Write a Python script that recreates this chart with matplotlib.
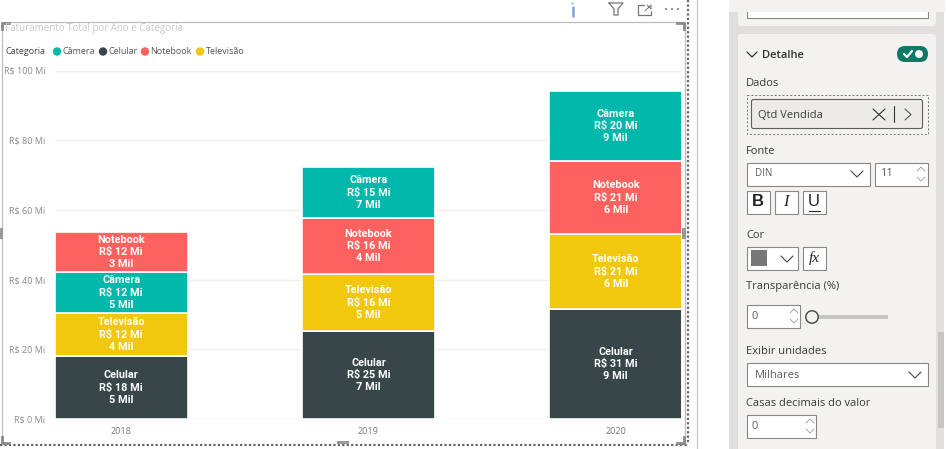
import matplotlib
matplotlib.use("Agg")
import matplotlib.pyplot as plt
from matplotlib.patches import Rectangle, FancyBboxPatch, Circle

years = ["2018", "2019", "2020"]
stack_order = [
    ["Celular", "Televisão", "Câmera", "Notebook"],
    ["Celular", "Televisão", "Notebook", "Câmera"],
    ["Celular", "Televisão", "Notebook", "Câmera"],
]
revenue = {
    "Câmera": [11.8, 14.6, 20.2],
    "Celular": [18.1, 25.3, 31.5],
    "Notebook": [11.5, 16.1, 21.0],
    "Televisão": [12.3, 16.3, 21.5],
}
revenue_labels = {
    "Câmera": ["R$ 12 Mi", "R$ 15 Mi", "R$ 20 Mi"],
    "Celular": ["R$ 18 Mi", "R$ 25 Mi", "R$ 31 Mi"],
    "Notebook": ["R$ 12 Mi", "R$ 16 Mi", "R$ 21 Mi"],
    "Televisão": ["R$ 12 Mi", "R$ 16 Mi", "R$ 21 Mi"],
}
quantity_labels = {
    "Câmera": ["5 Mil", "7 Mil", "9 Mil"],
    "Celular": ["5 Mil", "7 Mil", "9 Mil"],
    "Notebook": ["3 Mil", "4 Mil", "6 Mil"],
    "Televisão": ["4 Mil", "5 Mil", "6 Mil"],
}
colors = {"Câmera": "#01B8AA", "Celular": "#374649", "Notebook": "#FD625E", "Televisão": "#F2C80F"}
yticks = [0, 20, 40, 60, 80, 100]
title = "Faturamento Total por Ano e Categoria"

W, H = 947, 449
fig = plt.figure(figsize=(W / 100, H / 100), dpi=100, facecolor="white")
plt.rcParams["font.family"] = ["Open Sans", "DejaVu Sans"]

# Overlay in pixel coordinates for the surrounding interface
ui = fig.add_axes([0, 0, 1, 1], zorder=0)
ui.set_xlim(0, W)
ui.set_ylim(H, 0)
ui.axis("off")

def rect(x0, y0, x1, y1, fc="white", ec="none", lw=0.8, z=1, **kw):
    ui.add_patch(Rectangle((x0, y0), x1 - x0, y1 - y0, fc=fc, ec=ec, lw=lw, zorder=z, **kw))

def poly(xs, ys, c="#444444", lw=0.8, z=5, **kw):
    ui.plot(xs, ys, color=c, lw=lw, zorder=z, solid_capstyle="round", **kw)

def label(x, y, s, size=8, c="#3b3a39", ha="left", weight="normal", **kw):
    ui.text(x, y, s, fontsize=size, color=c, ha=ha, va="center", fontweight=weight, zorder=6, **kw)

# Visual frame
ui.plot([1.5, 1.5, 685, 685], [443, 22, 22, 443], color="#BDBDBD", lw=0.9, zorder=1)
ui.plot([0, 687.5], [444.5, 444.5], color="#666666", lw=1.6, ls=(0, (1, 1)), zorder=2)
ui.plot([687.5, 687.5], [0, 444], color="#666666", lw=1.6, ls=(0, (1, 1)), zorder=2)
ui.plot([696.5, 696.5], [0, 449], color="#C4C4C4", lw=0.9, zorder=1)
for xs, ys in [([2, 2, 9], [29, 22.5, 22.5]), ([677, 684, 684], [22.5, 22.5, 29]),
               ([2, 2, 9], [437, 443, 443]), ([677, 684, 684], [443, 443, 437])]:
    ui.plot(xs, ys, color="#8A8A8A", lw=2, zorder=3)
rect(337, 441, 349, 444, fc="#9A9A9A", z=3)
rect(0, 228, 3, 239, fc="#9A9A9A", z=3)
rect(682, 228, 686, 239, fc="#9A9A9A", z=3)

# Header icons
poly([572.5, 572.5], [7, 16], c="#7FA3D6", lw=1.8)
ui.add_patch(Circle((572.5, 3.5), 0.9, fc="#7FA3D6", ec="none", zorder=5))
poly([609, 623, 618, 618, 614, 614, 609], [3, 3, 9, 15, 15, 9, 3], c="#777777", lw=0.9)
poly([644, 638, 638, 651, 651], [5, 5, 15, 15, 11], c="#777777", lw=0.9)
poly([645, 651, 651, 647], [11, 5, 9, 5], c="#777777", lw=0.7)
for x in [666, 672, 678]:
    ui.add_patch(Circle((x, 9), 1, fc="#777777", ec="none", zorder=5))

# Title and legend
label(5, 29, title, size=7, c="#C8C8C8")
label(5, 52, "Categoria", size=6.5, c="#444444")
for cx, tx, name in [(57, 62.5, "Câmera"), (103, 108.5, "Celular"), (145, 150.5, "Notebook"), (200, 206, "Televisão")]:
    ui.add_patch(Circle((cx, 51.5), 4.2, fc=colors[name], ec="none", zorder=5))
    label(tx, 52, name, size=6.5, c="#555555")

# Chart
L, R, T, B = 55, 681, 70.5, 419
ax = fig.add_axes([L / W, 1 - B / H, (R - L) / W, (B - T) / H], zorder=2)
ax.patch.set_alpha(0)
ax.set_xlim(-0.268, 2.264)
ax.set_ylim(0, 100)
for s in ax.spines.values():
    s.set_visible(False)
ax.set_yticks(yticks)
ax.set_yticklabels([f"R$ {v} Mi" for v in yticks], fontsize=6.5, color="#8a8a8a")
ax.set_xticks(range(3))
ax.set_xticklabels(years, fontsize=6.5, color="#777777")
ax.tick_params(length=0, pad=7, axis="y")
ax.tick_params(length=0, pad=6, axis="x")
ax.grid(axis="y", color="#EFEFEF", lw=1)
ax.set_axisbelow(True)

for i, order in enumerate(stack_order):
    bottom = 0
    for name in order:
        v = revenue[name][i]
        ax.bar(i, v, 0.536, bottom=bottom, color=colors[name], edgecolor="white", linewidth=1.2, zorder=3)
        ax.text(i, bottom + v / 2, f"{name}\n{revenue_labels[name][i]}\n{quantity_labels[name][i]}",
                ha="center", va="center", color="white", fontsize=7.8, fontweight="bold",
                family="Roboto", linespacing=1.28, zorder=4)
        bottom += v

# Format pane
rect(729, 0, 944, 449, fc="#E1DFDD", z=1)
for y0, y1 in [(-10, 26), (34, 470)]:
    ui.add_patch(FancyBboxPatch((738, y0), 198, y1 - y0, boxstyle="round,pad=0,rounding_size=3",
                                fc="#F3F2F1", ec="none", zorder=1.5))
rect(746.5, 0, 927.5, 17.5, fc="white", ec="#8A8886", z=2)
rect(729, 0, 945, 12, fc="#F3F2F1", z=2.5)
rect(938, 332, 944, 428, fc="#C8C6C4", z=3)

poly([747, 752, 757], [52, 57, 52], c="#333333", lw=0.9)
label(762, 55, "Detalhe", size=8, c="#323130", weight="semibold")
ui.add_patch(FancyBboxPatch((897, 46), 31, 16, boxstyle="round,pad=0,rounding_size=8", fc="#117865", ec="none", zorder=3))
poly([904, 907, 912], [54, 57, 51], c="white", lw=1.6)
ui.add_patch(Circle((919, 54), 4, fc="white", ec="none", zorder=5))

label(746, 83, "Dados", size=8)
rect(746.5, 94.5, 927.5, 133.5, fc="none", ec="#777777", lw=0.7, z=3, ls=(0, (2, 2)))
ui.add_patch(FancyBboxPatch((751.5, 99.5), 171, 29, boxstyle="round,pad=0,rounding_size=2", fc="#EDEBE9", ec="#605E5C", lw=0.8, zorder=3))
label(758, 115, "Qtd Vendida", size=8)
poly([873, 885], [109, 120], c="#333333")
poly([873, 885], [120, 109], c="#333333")
poly([893.5, 893.5], [106, 122], c="#333333")
poly([905, 911, 905], [109, 114.5, 120], c="#555555")

label(746, 151, "Fonte", size=8)
rect(746.5, 162.5, 869.5, 185.5, ec="#8A8886", z=3)
label(755, 174, "DIN", size=7, c="#605E5C")
poly([851, 857, 863], [171, 177, 171], c="#444444")
rect(874.5, 162.5, 927.5, 185.5, ec="#8A8886", z=3)
label(880, 174, "11", size=8, c="#605E5C")
poly([917, 921, 925], [171, 167, 171], c="#999999", lw=0.6)
poly([917, 921, 925], [177, 181, 177], c="#999999", lw=0.6)
for x0, s, st, w in [(746.5, "B", "normal", "bold"), (774.5, "I", "italic", "normal"), (802.5, "U", "normal", "normal")]:
    rect(x0, 190.5, x0 + 23, 213.5, ec="#8A8886", z=3)
    ui.text(x0 + 11.5, 201.5, s, fontsize=12, color="#252423", ha="center", va="center",
            fontweight=w, fontstyle=st, family="Liberation Sans" if s != "I" else "Liberation Serif", zorder=6)
poly([809, 820], [210.5, 210.5], c="#252423", lw=0.8)

label(746, 235, "Cor", size=8)
rect(746.5, 246.5, 797.5, 269.5, ec="#8A8886", z=3)
rect(751, 250, 767, 266, fc="#777777", z=4)
poly([781, 787, 793], [256, 262, 256], c="#444444")
rect(802.5, 246.5, 825.5, 269.5, ec="#8A8886", z=3)
ui.text(814, 258, "fx", fontsize=11, family="Liberation Serif", fontstyle="italic", color="#252423",
        ha="center", va="center", zorder=6)

label(746, 287, "Transparência (%)", size=8)
rect(746.5, 304.5, 799.5, 327.5, ec="#8A8886", z=3)
label(751, 316.5, "0", size=8, c="#605E5C")
poly([790, 794, 798], [313, 309, 313], c="#999999", lw=0.6)
poly([790, 794, 798], [319, 323, 319], c="#999999", lw=0.6)
rect(812, 315, 888, 319, fc="#C8C6C4", z=3)
ui.add_patch(Circle((812, 317), 6.2, fc="#F3F2F1", ec="#444444", lw=1.0, zorder=4))

label(746, 351, "Exibir unidades", size=8)
rect(746.5, 362.5, 927.5, 385.5, ec="#8A8886", z=3)
label(755, 375, "Milhares", size=8, c="#605E5C")
poly([909, 915, 921], [372, 378, 372], c="#444444")

label(746, 403, "Casas decimais do valor", size=8)
rect(746.5, 414.5, 815.5, 437.5, ec="#8A8886", z=3)
label(751, 426.5, "0", size=8, c="#605E5C")
poly([806, 810, 814], [423, 419, 423], c="#999999", lw=0.6)
poly([806, 810, 814], [429, 433, 429], c="#999999", lw=0.6)

fig.savefig("out.png", dpi=100)
